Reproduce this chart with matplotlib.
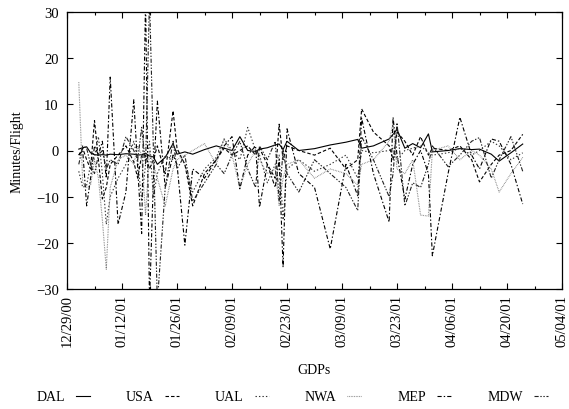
import matplotlib
matplotlib.use("Agg")
import matplotlib.pyplot as plt
import matplotlib.dates as mdates
import pandas as pd

plt.rcParams['font.family'] = ['Liberation Serif', 'DejaVu Serif']
plt.rcParams['font.size'] = 10
plt.rcParams['lines.scale_dashes'] = False

# GDP dates (common to all carriers)
gdp_dates = [
    "2001-01-01", "2001-01-02", "2001-01-03", "2001-01-04", "2001-01-05",
    "2001-01-06", "2001-01-07", "2001-01-08", "2001-01-09", "2001-01-11",
    "2001-01-13", "2001-01-15", "2001-01-16", "2001-01-17", "2001-01-18",
    "2001-01-19", "2001-01-20", "2001-01-21", "2001-01-23", "2001-01-25",
    "2001-01-26", "2001-01-28", "2001-01-30", "2001-02-02", "2001-02-05",
    "2001-02-07", "2001-02-09", "2001-02-11", "2001-02-13", "2001-02-15",
    "2001-02-16", "2001-02-18", "2001-02-20", "2001-02-21", "2001-02-22",
    "2001-02-23", "2001-02-26", "2001-03-02", "2001-03-06", "2001-03-10",
    "2001-03-13", "2001-03-14", "2001-03-17", "2001-03-21", "2001-03-22",
    "2001-03-23", "2001-03-25", "2001-03-27", "2001-03-29", "2001-03-31",
    "2001-04-01", "2001-04-05", "2001-04-08", "2001-04-11", "2001-04-13",
    "2001-04-16", "2001-04-18", "2001-04-21", "2001-04-24",
]

dal = [0.3, 0.6, 0.8, -0.5, -0.9, -1.0, -0.9, -1.0, -0.8, -0.9,
       -0.7, -0.8, -1.0, -0.9, -0.6, -1.2, -1.4, -3.0, -1.5, 1.5,
       -0.8, -0.3, -0.8, 0.2, 1.0, 0.5, 0.0, 3.0, 0.0, -0.2,
       0.3, 0.6, 1.2, 1.4, 0.2, 2.0, 0.0, 0.4, 1.2, 1.8,
       2.4, 0.5, 1.0, 2.5, 3.5, 4.6, 0.5, 1.5, 0.6, 3.6,
       -0.3, 0.0, 0.4, 0.2, 0.3, -0.8, -2.3, -0.5, 1.4]

usa = [-1.0, 0.5, -2.0, -4.0, 6.5, -2.0, -10.5, -8.0, -3.0, -1.0,
       1.0, -2.5, -6.0, -1.0, -1.0, -4.0, -2.0, 1.0, -5.0, 8.6,
       0.5, -3.0, -12.0, -5.0, -2.0, 0.5, -1.0, 0.0, 1.0, -1.0,
       0.5, -3.0, -6.0, 5.7, -2.0, 1.0, 0.0, -1.0, 0.5, -4.0,
       -2.0, 9.0, 4.0, 1.0, -2.0, 4.0, 2.0, -1.0, 3.0, -1.0,
       0.5, 0.0, 1.0, -2.0, -6.8, -3.0, -1.0, 0.0, 3.5]

ual = [-4.5, -8.0, -7.5, -3.0, -1.5, 3.0, -5.0, -16.0, -10.0, -6.0,
       -3.0, 2.0, -2.0, -11.0, -3.0, 2.0, -10.0, -5.0, -1.0, -2.0,
       0.0, -3.0, -9.0, -4.0, -1.5, 2.5, 0.0, -2.0, 5.0, 0.0,
       -1.0, -7.0, -3.0, -1.0, -15.0, -4.0, -2.0, -4.5, -3.0, -1.0,
       -6.0, 0.0, -0.5, 0.0, 0.5, -2.0, 0.0, 0.5, 1.0, -0.5,
       -1.0, -0.5, 0.5, -1.0, 0.0, 2.0, 1.0, -2.0, -0.5]

nwa = [14.8, -7.0, -8.0, -7.5, -2.0, -6.0, -15.0, -25.7, -8.0, -2.0,
       -1.0, -3.0, 1.0, -1.0, -14.0, 0.0, -3.0, -6.0, -12.0, -4.0,
       -2.0, -1.0, 0.0, 1.5, -3.0, 2.5, -1.0, -8.0, -3.0, 0.0,
       -2.0, -5.0, -4.0, -12.0, -6.0, -3.0, -2.0, -6.0, -4.0, -5.0,
       -7.5, -3.0, -2.0, 2.0, 6.0, -4.0, -5.0, -2.0, -14.0, -14.2,
       0.0, 1.0, -2.0, 0.0, -1.0, -4.0, -9.0, -5.0, -1.5]

mep = [-1.0, 0.0, -12.0, -6.0, 1.0, -1.0, 2.0, -6.0, 15.9, -16.0,
       -9.0, 11.0, -4.0, -18.0, 33.0, -33.0, -6.0, 10.7, -8.0, -1.0,
       -3.0, -20.5, -4.0, -6.0, -2.0, 1.0, 3.0, -8.3, -1.0, 1.0,
       -12.3, -3.0, -8.0, -2.0, -25.3, 4.7, -5.0, -8.0, -21.3, -3.0,
       -9.8, 7.0, -5.0, -15.5, 7.2, -1.0, -10.5, -3.0, 0.0, -5.0,
       -22.8, -5.0, 7.2, -1.0, -4.0, 2.5, 2.0, -3.0, -11.6]

mdw = [-3.0, 1.0, 0.5, -3.0, -5.0, -1.0, 0.0, -4.0, -2.0, -3.0,
       3.0, 0.0, -2.0, 5.0, -3.0, 33.0, 0.0, -33.0, -8.0, 2.0,
       -4.0, -1.0, -11.0, -7.0, -3.0, -5.0, -1.0, 2.0, -4.0, -8.0,
       1.0, -2.0, 2.0, -11.0, 0.0, -5.0, -9.0, -2.0, -5.0, -8.0,
       -13.0, 3.0, -2.0, -10.0, -5.0, 6.0, -12.0, -7.0, -8.0, -3.0,
       1.0, -3.5, -1.0, 2.0, 2.8, -6.0, -2.0, 3.0, -4.5]

carriers = ["DAL", "USA", "UAL", "NWA", "MEP", "MDW"]
series = [dal, usa, ual, nwa, mep, mdw]
styles = [
    ('black', '-'),
    ('black', (0, (2.5, 1.5))),
    ('#333333', (0, (1.0, 1.5))),
    ('#777777', (0, (0.5, 0.7))),
    ('black', (0, (3.0, 1.5, 1.0, 1.5))),
    ('#222222', (0, (3.0, 1.2, 1.0, 1.2, 1.0, 1.2))),
]

dates = pd.to_datetime(gdp_dates)

fig = plt.figure(figsize=(5.69, 4.10), dpi=100)
ax = fig.add_subplot(111)
fig.subplots_adjust(left=67/569, right=562/569, top=1-13/410, bottom=1-290/410)

for name, vals, (col, ls) in zip(carriers, series, styles):
    ax.plot(dates, vals, color=col, linestyle=ls, linewidth=0.8, label=name)

ax.set_xlim(pd.Timestamp("2000-12-29"), pd.Timestamp("2001-05-04"))
ax.set_ylim(-30, 30)
ax.set_yticks([-30, -20, -10, 0, 10, 20, 30])

major = pd.date_range("2000-12-29", "2001-05-04", freq="14D")
minor = pd.date_range("2000-12-29", "2001-05-04", freq="7D")
ax.set_xticks(major)
ax.set_xticks(minor, minor=True)
ax.xaxis.set_major_formatter(mdates.DateFormatter("%m/%d/%y"))
plt.setp(ax.get_xticklabels(), rotation=90, fontsize=10.5)
plt.setp(ax.get_yticklabels(), fontsize=10.5)

ax.tick_params(which='major', direction='in', top=True, right=True, length=4, width=0.8)
ax.tick_params(which='minor', direction='in', top=True, right=True, length=2, width=0.8)
ax.tick_params(axis='y', pad=6)
for sp in ax.spines.values():
    sp.set_linewidth(0.9)

ax.set_ylabel("Minutes/Flight")
ax.yaxis.set_label_coords(-0.088, 0.5)
ax.set_xlabel("GDPs")
ax.xaxis.label.set_va('center')
ax.xaxis.set_label_coords(0.5, -0.292)

fig.legend(loc='center', bbox_to_anchor=(292/569, 1-398/410), ncol=6,
           markerfirst=False, frameon=False, handlelength=1.0,
           handletextpad=0.8, columnspacing=2.6, borderaxespad=0, borderpad=0)

fig.savefig("out.png", dpi=100)
